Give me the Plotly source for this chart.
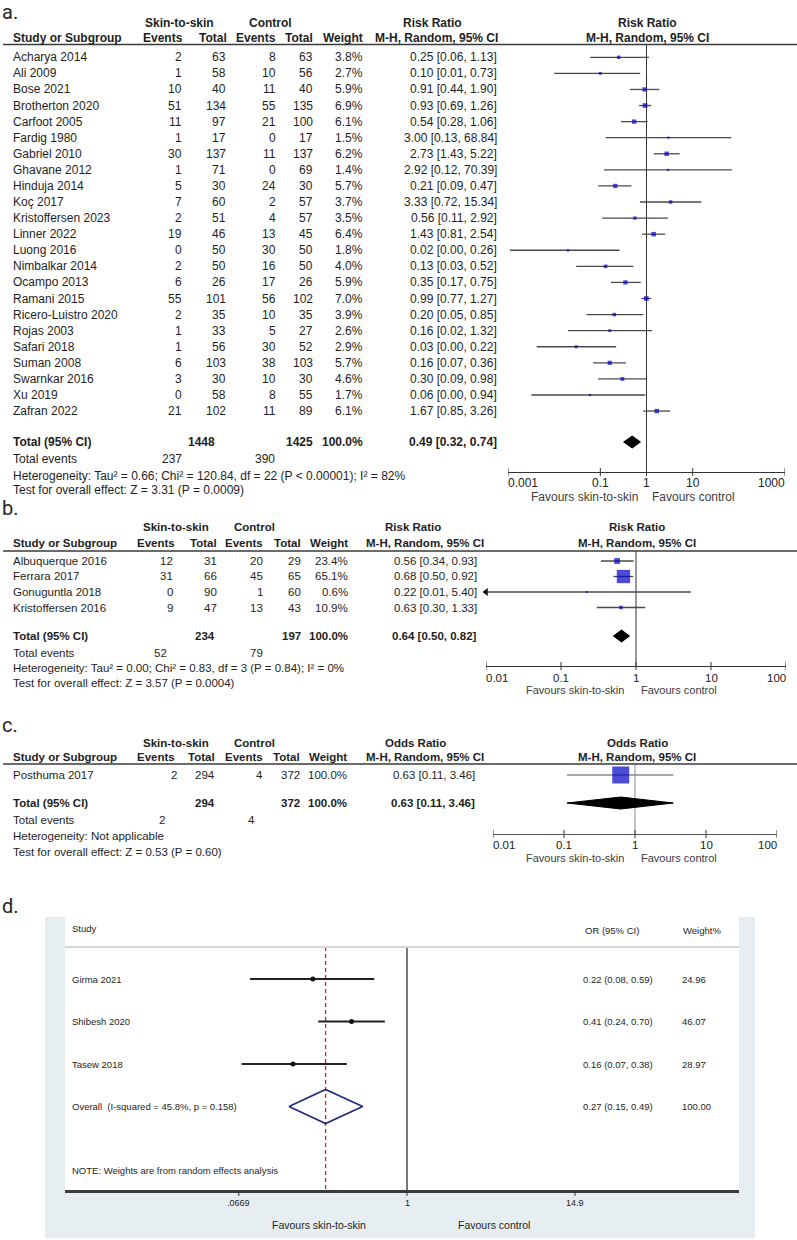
import math
import plotly.graph_objects as go

W, H = 797, 1240
FONT = "Liberation Sans, Arial, Helvetica, sans-serif"
LFONT = "Roboto, Noto Sans, sans-serif"
TXT = "#1e1e1e"
BLUE = "#0000c8"

# ---------------- panel a data (Risk Ratio) ----------------
studies_a = ["Acharya 2014", "Ali 2009", "Bose 2021", "Brotherton 2020", "Carfoot 2005",
             "Fardig 1980", "Gabriel 2010", "Ghavane 2012", "Hinduja 2014", "Koç 2017",
             "Kristoffersen 2023", "Linner 2022", "Luong 2016", "Nimbalkar 2014", "Ocampo 2013",
             "Ramani 2015", "Ricero-Luistro 2020", "Rojas 2003", "Safari 2018", "Suman 2008",
             "Swarnkar 2016", "Xu 2019", "Zafran 2022"]
ev_s_a = [2, 1, 10, 51, 11, 1, 30, 1, 5, 7, 2, 19, 0, 2, 6, 55, 2, 1, 1, 6, 3, 0, 21]
tot_s_a = [63, 58, 40, 134, 97, 17, 137, 71, 30, 60, 51, 46, 50, 50, 26, 101, 35, 33, 56, 103, 30, 58, 102]
ev_c_a = [8, 10, 11, 55, 21, 0, 11, 0, 24, 2, 4, 13, 30, 16, 17, 56, 10, 5, 30, 38, 10, 8, 11]
tot_c_a = [63, 56, 40, 135, 100, 17, 137, 69, 30, 57, 57, 45, 50, 50, 26, 102, 35, 27, 52, 103, 30, 55, 89]
weight_a = [3.8, 2.7, 5.9, 6.9, 6.1, 1.5, 6.2, 1.4, 5.7, 3.7, 3.5, 6.4, 1.8, 4.0, 5.9, 7.0, 3.9, 2.6, 2.9, 5.7, 4.6, 1.7, 6.1]
rr_a = [0.25, 0.10, 0.91, 0.93, 0.54, 3.00, 2.73, 2.92, 0.21, 3.33, 0.56, 1.43, 0.02, 0.13, 0.35, 0.99, 0.20, 0.16, 0.03, 0.16, 0.30, 0.06, 1.67]
lo_a = [0.06, 0.01, 0.44, 0.69, 0.28, 0.13, 1.43, 0.12, 0.09, 0.72, 0.11, 0.81, 0.0011, 0.03, 0.17, 0.77, 0.05, 0.02, 0.0042, 0.07, 0.09, 0.0032, 0.85]
hi_a = [1.13, 0.73, 1.90, 1.26, 1.06, 68.84, 5.22, 70.39, 0.47, 15.34, 2.92, 2.54, 0.26, 0.52, 0.75, 1.27, 0.85, 1.32, 0.22, 0.36, 0.98, 0.94, 3.26]
total_a = {"n_s": 1448, "n_c": 1425, "ev_s": 237, "ev_c": 390, "rr": 0.49, "lo": 0.32, "hi": 0.74}
het_a = "Heterogeneity: Tau² = 0.66; Chi² = 120.84, df = 22 (P < 0.00001); I² = 82%"
test_a = "Test for overall effect: Z = 3.31 (P = 0.0009)"
ticks_a = [0.001, 0.1, 1, 10, 1000]
ticklab_a = ["0.001", "0.1", "1", "10", "1000"]

# ---------------- panel b data (Risk Ratio) ----------------
studies_b = ["Albuquerque 2016", "Ferrara 2017", "Gonuguntla 2018", "Kristoffersen 2016"]
ev_s_b = [12, 31, 0, 9]
tot_s_b = [31, 66, 90, 47]
ev_c_b = [20, 45, 1, 13]
tot_c_b = [29, 65, 60, 43]
weight_b = [23.4, 65.1, 0.6, 10.9]
rr_b = [0.56, 0.68, 0.22, 0.63]
lo_b = [0.34, 0.50, 0.01, 0.30]
hi_b = [0.93, 0.92, 5.40, 1.33]
total_b = {"n_s": 234, "n_c": 197, "ev_s": 52, "ev_c": 79, "rr": 0.64, "lo": 0.50, "hi": 0.82}
het_b = "Heterogeneity: Tau² = 0.00; Chi² = 0.83, df = 3 (P = 0.84); I² = 0%"
test_b = "Test for overall effect: Z = 3.57 (P = 0.0004)"
ticks_bc = [0.01, 0.1, 1, 10, 100]
ticklab_bc = ["0.01", "0.1", "1", "10", "100"]

# ---------------- panel c data (Odds Ratio) ----------------
studies_c = ["Posthuma 2017"]
ev_s_c = [2]
tot_s_c = [294]
ev_c_c = [4]
tot_c_c = [372]
weight_c = [100.0]
or_c = [0.63]
lo_c = [0.11]
hi_c = [3.46]
total_c = {"n_s": 294, "n_c": 372, "ev_s": 2, "ev_c": 4, "rr": 0.63, "lo": 0.11, "hi": 3.46}
het_c = "Heterogeneity: Not applicable"
test_c = "Test for overall effect: Z = 0.53 (P = 0.60)"

# ---------------- panel d data (Stata OR) ----------------
studies_d = ["Girma 2021", "Shibesh 2020", "Tasew 2018"]
or_d = [0.22, 0.41, 0.16]
lo_d = [0.08, 0.24, 0.07]
hi_d = [0.59, 0.70, 0.38]
weight_d = [24.96, 46.07, 28.97]
overall_d = {"or": 0.27, "lo": 0.15, "hi": 0.49, "w": 100.00}
overall_label_d = "Overall\u00a0 (I-squared = 45.8%, p = 0.158)"
ticks_d = [0.0669, 1, 14.9]
ticklab_d = [".0669", "1", "14.9"]

fig = go.Figure()
ANN, SHP = [], []


def txt(x, y, s, anchor="left", size=12, bold=False, color=TXT, family=FONT):
    ANN.append(dict(x=x / W, y=1 - y / H, xref="paper", yref="paper",
                    text=("<b>%s</b>" % s) if bold else s, showarrow=False,
                    xanchor=anchor, yanchor="middle", borderpad=0, borderwidth=0,
                    font=dict(family=family, size=size, color=color)))


def hline(x0, x1, y, color, width):
    SHP.append(dict(type="line", xref="paper", yref="paper", x0=x0 / W, x1=x1 / W,
                    y0=1 - y / H, y1=1 - y / H, line=dict(color=color, width=width)))


def rect(x0, y0, x1, y1, color):
    SHP.append(dict(type="rect", xref="paper", yref="paper", x0=x0 / W, x1=x1 / W,
                    y0=1 - y1 / H, y1=1 - y0 / H, fillcolor=color, line=dict(width=0), layer="below"))


def segs(xa, x0s, x1s, y0s, y1s, color, width, dash="solid"):
    X, Y = [], []
    for a, b, c, d in zip(x0s, x1s, y0s, y1s):
        X += [a, b, None]
        Y += [c, d, None]
    fig.add_trace(go.Scatter(x=X, y=Y, xaxis=xa, yaxis="y", mode="lines",
                             line=dict(color=color, width=width, dash=dash),
                             hoverinfo="skip", showlegend=False))


def xax(d0, d1, r0, r1, ypos, lw=1.2, lc="#333"):
    return dict(type="log", domain=[d0 / W, d1 / W], range=[r0, r1], anchor="free",
                position=1 - ypos / H, showline=True, linecolor=lc, linewidth=lw,
                ticks="", showticklabels=False, showgrid=False, zeroline=False, fixedrange=True)


def axis_ticks(xa, ref, vals, labels, yax, ylab, size, up, down, color="#333", ends=True, lcolor="#222"):
    n = len(vals)
    segs(xa, vals, vals, [yax - up] * n, [yax + down] * n, color, 1)
    for i, (v, l) in enumerate(zip(vals, labels)):
        anc = "center"
        if ends and i == 0:
            anc = "left"
        if ends and i == n - 1:
            anc = "right"
        ANN.append(dict(x=math.log10(v), xref=ref, y=1 - ylab / H, yref="paper", text=l,
                        showarrow=False, xanchor=anc, yanchor="middle", borderpad=0, borderwidth=0,
                        font=dict(family=FONT, size=size, color=lcolor)))


def revman_panel(cfg):
    fs = cfg["fs"]
    c = cfg["cols"]
    # header
    txt(c["sk_c"], cfg["h1"], "Skin-to-skin", "center", fs, True)
    txt(c["ct_c"], cfg["h1"], "Control", "center", fs, True)
    txt(c["eff_c"], cfg["h1"], cfg["measure"], "center", fs, True)
    txt(c["plot_c"], cfg["h1"], cfg["measure"], "center", fs, True)
    txt(13, cfg["h2"], "Study or Subgroup", "left", fs, True)
    txt(c["hev_s"], cfg["h2"], "Events", "right", fs, True)
    txt(c["tot_s"], cfg["h2"], "Total", "right", fs, True)
    txt(c["ev_c"], cfg["h2"], "Events", "right", fs, True)
    txt(c["tot_c"], cfg["h2"], "Total", "right", fs, True)
    txt(c["w"], cfg["h2"], "Weight", "right", fs, True)
    txt(c["eff_c2"], cfg["h2"], "M-H, Random, 95% CI", "center", fs, True)
    txt(c["plot_c"], cfg["h2"], "M-H, Random, 95% CI", "center", fs, True)
    hline(3, 797, cfg["hl"], "#3a3a3a", 1.4)
    ys = [cfg["r0"] + cfg["dr"] * i for i in range(len(cfg["studies"]))]
    for i, y in enumerate(ys):
        txt(13, y, cfg["studies"][i], "left", fs)
        txt(c["ev_s"], y, str(cfg["ev_s"][i]), "right", fs)
        txt(c["tot_s_r"], y, str(cfg["tot_s"][i]), "right", fs)
        txt(c["ev_c"], y, str(cfg["ev_c"][i]), "right", fs)
        txt(c["tot_c"], y, str(cfg["tot_c"][i]), "right", fs)
        txt(c["w"], y, "%.1f%%" % cfg["w"][i], "right", fs)
        txt(c["eff"], y, "%.2f [%.2f, %.2f]" % (cfg["est"][i], cfg["lo"][i], cfg["hi"][i]), "right", fs)
    t = cfg["total"]
    yt, ye, yh, yz = cfg["yt"], cfg["ye"], cfg["yh"], cfg["yz"]
    txt(13, yt, "Total (95% CI)", "left", fs, True)
    txt(c["tot_tot_s"], yt, str(t["n_s"]), "right", fs, True)
    txt(c["tot_c"], yt, str(t["n_c"]), "right", fs, True)
    txt(c["w"], yt, "100.0%", "right", fs, True)
    txt(c["eff"], yt, "%.2f [%.2f, %.2f]" % (t["rr"], t["lo"], t["hi"]), "right", fs, True)
    txt(13, ye, "Total events", "left", fs)
    txt(c["te_s"], ye, str(t["ev_s"]), "right", fs)
    txt(c["te_c"], ye, str(t["ev_c"]), "right", fs)
    txt(13, yh, cfg["het"], "left", fs)
    txt(13, yz, cfg["test"], "left", fs)
    xa, ref = cfg["xa"], cfg["ref"]
    # vertical line of no effect
    segs(xa, [1], [1], [cfg["hl"]], [cfg["yax"]], cfg["vcol"], 1)
    # CI lines
    segs(xa, cfg["lo"], cfg["hi"], ys, ys, cfg["cicol"], 1.3)
    # arrows for CIs beyond axis
    amin = cfg["ticks"][0]
    arr_x = [amin for lo in cfg["lo"] if lo <= amin]
    arr_y = [y for lo, y in zip(cfg["lo"], ys) if lo <= amin]
    if arr_x:
        fig.add_trace(go.Scatter(x=arr_x, y=arr_y, xaxis=xa, yaxis="y", mode="markers",
                                 marker=dict(symbol="triangle-left", size=7, color="#111"),
                                 cliponaxis=False, hoverinfo="skip", showlegend=False))
    # squares
    fig.add_trace(go.Scatter(x=cfg["est"], y=ys, xaxis=xa, yaxis="y", mode="markers",
                             marker=dict(symbol="square", size=[cfg["size"](w) for w in cfg["w"]],
                                         color=BLUE, line=dict(width=0)),
                             cliponaxis=False, hoverinfo="skip", showlegend=False))
    # diamond
    dh = 6
    fig.add_trace(go.Scatter(x=[t["lo"], t["rr"], t["hi"], t["rr"], t["lo"]],
                             y=[yt, yt - dh, yt, yt + dh, yt], xaxis=xa, yaxis="y", mode="lines",
                             fill="toself", fillcolor="#000", line=dict(color="#000", width=1),
                             hoverinfo="skip", showlegend=False))
    axis_ticks(xa, ref, cfg["ticks"], cfg["ticklab"], cfg["yax"], cfg["ylab"], cfg["tfs"], 4, 4)
    txt(cfg["fav_r"], cfg["yfav"], "Favours skin-to-skin", "right", cfg["ffs"], color="#3c3c3c")
    txt(cfg["fav_l"], cfg["yfav"], "Favours control", "left", cfg["ffs"], color="#3c3c3c")


# ---------- panel labels ----------
txt(2, 12, "a.", "left", 20, family=LFONT, color="#262626")
txt(2, 508, "b.", "left", 20, family=LFONT, color="#262626")
txt(2, 725, "c.", "left", 20, family=LFONT, color="#262626")
txt(2, 906, "d.", "left", 20, family=LFONT, color="#262626")

# ---------- panel a ----------
revman_panel(dict(
    fs=12, measure="Risk Ratio", studies=studies_a, ev_s=ev_s_a, tot_s=tot_s_a, ev_c=ev_c_a, tot_c=tot_c_a,
    w=weight_a, est=rr_a, lo=lo_a, hi=hi_a, total=total_a, het=het_a, test=test_a,
    cols=dict(sk_c=179, ct_c=270.5, eff_c=432, plot_c=647.5, hev_s=183, ev_s=182, tot_s=227, tot_s_r=226,
              ev_c=276, tot_c=313, w=363, eff_c2=436.5, eff=497, tot_tot_s=215, te_s=182, te_c=275),
    h1=23, h2=38, hl=44.5, r0=57.3, dr=16.08, yt=442, ye=459, yh=475.5, yz=490.5,
    xa="x", ref="x", vcol="#333", cicol="#4a4a4a", size=lambda w: max(2.0, 1.78 * math.sqrt(w)),
    ticks=ticks_a, ticklab=ticklab_a, yax=472, ylab=483.5, tfs=12, ffs=12,
    fav_r=638, fav_l=652, yfav=497.5))

# ---------- panel b ----------
revman_panel(dict(
    fs=11.5, measure="Risk Ratio", studies=studies_b, ev_s=ev_s_b, tot_s=tot_s_b, ev_c=ev_c_b, tot_c=tot_c_b,
    w=weight_b, est=rr_b, lo=lo_b, hi=hi_b, total=total_b, het=het_b, test=test_b,
    cols=dict(sk_c=176, ct_c=254, eff_c=413, plot_c=637, hev_s=175, ev_s=173, tot_s=217, tot_s_r=217,
              ev_c=263, tot_c=301, w=348, eff_c2=425, eff=477, tot_tot_s=215, te_s=167, te_c=263),
    h1=527, h2=542.5, hl=551, r0=561, dr=15.5, yt=636, ye=652.5, yh=668, yz=682.5,
    xa="x2", ref="x2", vcol="#333", cicol="#4a4a4a", size=lambda w: max(2.0, 1.6 + 0.18 * w),
    ticks=ticks_bc, ticklab=ticklab_bc, yax=666, ylab=677.5, tfs=11.5, ffs=11,
    fav_r=624, fav_l=641, yfav=690))

# ---------- panel c ----------
revman_panel(dict(
    fs=11.5, measure="Odds Ratio", studies=studies_c, ev_s=ev_s_c, tot_s=tot_s_c, ev_c=ev_c_c, tot_c=tot_c_c,
    w=weight_c, est=or_c, lo=lo_c, hi=hi_c, total=total_c, het=het_c, test=test_c,
    cols=dict(sk_c=176, ct_c=254, eff_c=415, plot_c=637, hev_s=175, ev_s=177, tot_s=215, tot_s_r=215,
              ev_c=263, tot_c=300, w=347, eff_c2=425, eff=475, tot_tot_s=215, te_s=165, te_c=255),
    h1=742.5, h2=757, hl=764, r0=775, dr=15.5, yt=803, ye=820, yh=836, yz=851.5,
    xa="x3", ref="x3", vcol="#8a8a8a", cicol="#8a8a8a", size=lambda w: 17,
    ticks=ticks_bc, ticklab=ticklab_bc, yax=834, ylab=845, tfs=11.5, ffs=11,
    fav_r=624, fav_l=641, yfav=857.5))

# ---------- panel d (Stata style) ----------
rect(45, 917, 755, 1238, "#e7eef1")
rect(65, 917, 739, 1191, "#ffffff")
hline(65, 739, 947, "#d6d6d6", 2)
fs_d = 9.5
txt(72, 928, "Study", "left", fs_d)
txt(585, 930, "OR (95% CI)", "left", fs_d)
txt(683, 930, "Weight%", "left", fs_d)
yd = [979 + 42.5 * i for i in range(len(studies_d))]
y_ov = 979 + 42.5 * len(studies_d)
for i, y in enumerate(yd):
    txt(72, y, studies_d[i], "left", fs_d)
    txt(583, y, "%.2f (%.2f, %.2f)" % (or_d[i], lo_d[i], hi_d[i]), "left", fs_d)
    txt(682, y, "%.2f" % weight_d[i], "left", fs_d)
txt(72, y_ov, overall_label_d, "left", fs_d)
txt(583, y_ov, "%.2f (%.2f, %.2f)" % (overall_d["or"], overall_d["lo"], overall_d["hi"]), "left", fs_d)
txt(682, y_ov, "%.2f" % overall_d["w"], "left", fs_d)
txt(72, 1170, "NOTE: Weights are from random effects analysis", "left", fs_d)

segs("x4", [1], [1], [947], [1191], "#4d4d4d", 1.5)
segs("x4", [overall_d["or"]], [overall_d["or"]], [947], [1191], "#c8282a", 1.3, dash="4px,3px")
segs("x4", lo_d, hi_d, yd, yd, "#222", 2.2)
fig.add_trace(go.Scatter(x=or_d, y=yd, xaxis="x4", yaxis="y", mode="markers",
                         marker=dict(symbol="circle", size=5, color="#111"),
                         cliponaxis=False, hoverinfo="skip", showlegend=False))
fig.add_trace(go.Scatter(x=[overall_d["lo"], overall_d["or"], overall_d["hi"], overall_d["or"], overall_d["lo"]],
                         y=[y_ov, y_ov - 17, y_ov, y_ov + 17, y_ov], xaxis="x4", yaxis="y", mode="lines",
                         line=dict(color="#1f2c7c", width=1.6), hoverinfo="skip", showlegend=False))
axis_ticks("x4", "x4", ticks_d, ticklab_d, 1191, 1203, 9, 0, 5, color="#333", ends=False)
txt(318.5, 1225, "Favours skin-to-skin", "center", 10.5)
txt(493.5, 1225, "Favours control", "center", 10.5)

px_per_dec_d = 143.2
x_one_d = 407
fig.update_layout(
    width=W, height=H, margin=dict(l=0, r=0, t=0, b=0),
    paper_bgcolor="white", plot_bgcolor="rgba(0,0,0,0)", showlegend=False,
    xaxis=xax(508, 785, -3, 3, 472, 1.3),
    xaxis2=xax(486, 786, -2, 2, 666, 1.3),
    xaxis3=xax(493, 777, -2, 2, 834, 1.3, "#555"),
    xaxis4=xax(65, 739, (65 - x_one_d) / px_per_dec_d, (739 - x_one_d) / px_per_dec_d, 1191, 2.5, "#3a3a3a"),
    yaxis=dict(range=[H, 0], domain=[0, 1], visible=False, anchor="free", position=0, fixedrange=True),
    annotations=ANN, shapes=SHP,
)
fig.write_html("out.html", config={"displayModeBar": False},
               post_script="document.body.style.margin='0';document.body.style.padding='0';")
